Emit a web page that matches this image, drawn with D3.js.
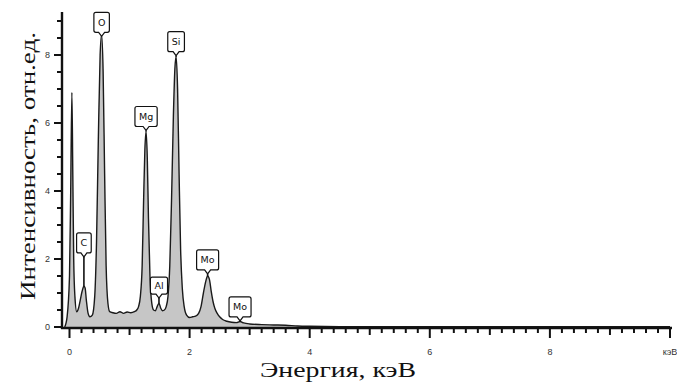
<!DOCTYPE html>
<html><head><meta charset="utf-8">
<script src="https://cdn.jsdelivr.net/npm/d3@7"></script>
<style>
html,body{margin:0;padding:0;background:#fff;}
svg{display:block;}
</style></head>
<body>
<svg id="chart" width="677" height="387"></svg>
<script>
// ---- data ----
const energy = [-0.08,-0.04,0.0,0.02,0.04,0.055,0.07,0.09,0.12,0.15,0.18,0.21,0.24,0.26,0.28,0.31,0.34,0.38,0.42,0.45,0.48,0.51,0.535,0.56,0.585,0.61,0.64,0.67,0.72,0.78,0.84,0.9,0.96,1.02,1.08,1.12,1.15,1.18,1.21,1.235,1.255,1.275,1.295,1.315,1.34,1.37,1.40,1.43,1.46,1.49,1.52,1.55,1.58,1.61,1.64,1.67,1.70,1.73,1.755,1.775,1.80,1.825,1.85,1.88,1.91,1.95,2.0,2.05,2.10,2.15,2.19,2.23,2.27,2.30,2.33,2.36,2.39,2.42,2.46,2.50,2.55,2.62,2.70,2.78,2.84,2.90,3.0,3.2,3.4,3.6,3.8,4.0,4.5,5.0,6.0,7.0,8.0,9.0,10.0];
const intensity = [0.0,0.3,1.5,4.0,6.9,4.5,2.0,0.9,0.45,0.55,0.8,1.05,1.2,1.15,0.8,0.4,0.3,0.35,0.9,2.5,5.5,8.0,8.6,7.5,4.5,1.8,0.7,0.45,0.42,0.4,0.45,0.4,0.44,0.42,0.45,0.5,0.6,0.9,1.8,3.8,5.2,5.75,5.0,3.2,1.5,0.7,0.5,0.48,0.6,0.7,0.55,0.48,0.5,0.6,0.9,1.8,3.8,6.2,7.6,7.95,7.0,4.5,2.3,1.1,0.6,0.35,0.28,0.3,0.32,0.4,0.6,1.0,1.35,1.5,1.4,1.05,0.75,0.55,0.4,0.3,0.22,0.17,0.14,0.13,0.16,0.12,0.09,0.07,0.06,0.05,0.03,0.02,0.01,0.01,0.01,0.01,0.01,0.01,0.01];

const labelText   = ["C","O","Mg","Al","Si","Mo","Mo"];
const labelEnergy = [0.24,0.535,1.275,1.49,1.775,2.30,2.84];
const labelPeak   = [1.2,8.55,5.75,0.7,7.95,1.5,0.16];
const labelTip    = [2.06,8.55,5.78,0.85,7.98,1.56,0.18];

const xMajor = [0,2,4,6,8,10];
const xTickLabels = ["0","2","4","6","8","кэВ"];
const yMajor = [0,2,4,6,8];
const yTickLabels = ["0","2","4","6","8"];
const xTitle = "Энергия, кэВ";
const yTitle = "Интенсивность, отн.ед.";

// ---- chart ----
const svg = d3.select("#chart");
const x = d3.scaleLinear().domain([0,10]).range([69.5,670]);
const y = d3.scaleLinear().domain([0,9]).range([327,21]);
const pts = energy.map((e,i)=>[e,intensity[i]]);
const axisY = y(0) + 1, axisX = 62;

svg.append("path").datum(pts)
  .attr("d", d3.area().x(d=>x(d[0])).y0(axisY).y1(d=>y(d[1])).curve(d3.curveMonotoneX))
  .attr("fill","#c6c6c6");
svg.append("path").datum(pts)
  .attr("d", d3.line().x(d=>x(d[0])).y(d=>y(d[1])).curve(d3.curveMonotoneX))
  .attr("fill","none").attr("stroke","#1a1a1a").attr("stroke-width",1.4);

// ticks
const xMinor = d3.range(0,10.001,0.2).map(v=>+v.toFixed(1));
const yMinor = d3.range(0,9.001,0.5);
const tickFont = "Liberation Sans, Arial, sans-serif";
const ink = "#111";

svg.append("g").selectAll("line").data(xMinor).join("line")
  .attr("x1",d=>x(d)).attr("x2",d=>x(d)).attr("y1",axisY).attr("y2",d=>axisY + (xMajor.includes(d)?10:(Number.isInteger(d)?7:5)))
  .attr("stroke",ink).attr("stroke-width",2);
svg.append("g").selectAll("text").data(xMajor).join("text")
  .attr("x",d=>x(d)).attr("y",axisY+27).attr("text-anchor","middle")
  .attr("font-family",tickFont).attr("font-size",9).attr("fill","#333")
  .text((d,i)=>xTickLabels[i]);

svg.append("g").selectAll("line").data(yMinor).join("line")
  .attr("x1",axisX).attr("x2",d=>axisX - (yMajor.includes(d)?8:5)).attr("y1",d=>y(d)).attr("y2",d=>y(d))
  .attr("stroke",ink).attr("stroke-width",2);
svg.append("g").selectAll("text").data(yMajor).join("text")
  .attr("x",axisX-12).attr("y",d=>y(d)+3).attr("text-anchor","end")
  .attr("font-family",tickFont).attr("font-size",9).attr("fill","#333")
  .text((d,i)=>yTickLabels[i]);

svg.append("line").attr("x1",axisX-1).attr("x2",672).attr("y1",axisY).attr("y2",axisY)
  .attr("stroke",ink).attr("stroke-width",2.4);
svg.append("line").attr("x1",axisX).attr("x2",axisX).attr("y1",12).attr("y2",axisY+1)
  .attr("stroke",ink).attr("stroke-width",2.4);

// peak labels
labelText.forEach((t,i)=>{
  const cx = x(labelEnergy[i]);
  const tipY = y(labelTip[i]);
  const g = svg.append("g");
  g.append("line").attr("x1",cx).attr("x2",cx).attr("y1",tipY).attr("y2",y(labelPeak[i]))
    .attr("stroke",ink).attr("stroke-width",1.6);
  const txt = g.append("text").text(t).attr("font-family","DejaVu Sans, sans-serif")
    .attr("font-size",9.5).attr("fill",ink).attr("text-anchor","middle");
  const w = txt.node().getComputedTextLength() + 8;
  const h = t==="Al" ? 17 : 20;
  const v = 4;
  const bottom = tipY - v, top = bottom - h, l = cx - w/2, r = cx + w/2, rr = 2;
  const p = `M${l+rr},${top} L${r-rr},${top} Q${r},${top} ${r},${top+rr} L${r},${bottom-rr} Q${r},${bottom} ${r-rr},${bottom}
    L${cx+3},${bottom} L${cx},${tipY} L${cx-3},${bottom} L${l+rr},${bottom} Q${l},${bottom} ${l},${bottom-rr} L${l},${top+rr} Q${l},${top} ${l+rr},${top} Z`;
  g.insert("path","text").attr("d",p).attr("fill","#fff").attr("stroke",ink).attr("stroke-width",1.2);
  txt.attr("x",cx).attr("y",top + h/2 + 3.5);
});

// titles
svg.append("text").text(xTitle).attr("x",338).attr("y",377).attr("text-anchor","middle")
  .attr("font-family","Liberation Serif, Times New Roman, serif").attr("font-size",20)
  .attr("textLength",156).attr("lengthAdjust","spacingAndGlyphs").attr("fill",ink);
svg.append("text").text(yTitle).attr("transform","translate(35,166) rotate(-90)").attr("text-anchor","middle")
  .attr("font-family","Liberation Serif, Times New Roman, serif").attr("font-size",20)
  .attr("textLength",268).attr("lengthAdjust","spacingAndGlyphs").attr("fill",ink);
</script>
</body></html>
